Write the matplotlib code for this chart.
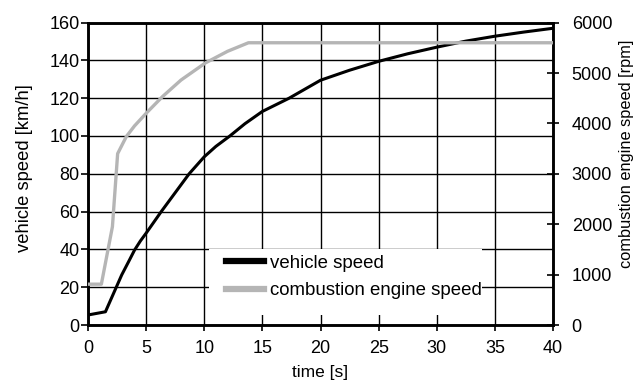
import matplotlib
matplotlib.use("Agg")
import matplotlib.pyplot as plt
from matplotlib.patches import Rectangle

plt.rcParams['font.family'] = ['Liberation Sans', 'DejaVu Sans']

# vehicle speed over time
t_vehicle = [0, 1.5, 2.9, 3.5, 4.0, 4.5, 5.0, 6.3, 7.5, 8.7, 10.0, 11.0, 12.2, 13.5, 15.0,
             17.3, 20.0, 22.5, 25.0, 27.5, 30.0, 32.5, 35.0, 37.5, 40.0]
v_vehicle = [5.3, 7.0, 26.5, 33.6, 39.6, 44.4, 48.6, 60, 70, 80, 89, 94.5, 100, 106.5, 113,
             120, 129.5, 134.8, 139.5, 143.5, 147, 150.2, 152.8, 155, 157]

# combustion engine speed over time
t_engine = [0, 1.15, 2.1, 2.55, 3.3, 4.0, 5.0, 6.4, 8.0, 10.1, 12.0, 13.8, 40.0]
n_engine = [810, 810, 1950, 3400, 3740, 3950, 4200, 4530, 4860, 5200, 5430, 5600, 5600]

x_ticks = [0, 5, 10, 15, 20, 25, 30, 35, 40]
y_ticks = [0, 20, 40, 60, 80, 100, 120, 140, 160]
rpm_ticks = [0, 1000, 2000, 3000, 4000, 5000, 6000]

W, H = 638, 385
fig = plt.figure(figsize=(W / 100, H / 100), dpi=100)
ax = fig.add_axes([88 / W, 1 - 325 / H, 465 / W, 302.4 / H])
ax2 = ax.twinx()

ax.set_xlim(0, 40)
ax.set_ylim(0, 160)
ax2.set_ylim(0, 6000)
ax.set_xticks(x_ticks)
ax.set_yticks(y_ticks)
ax2.set_yticks(rpm_ticks)

ax.set_axisbelow(True)
ax.grid(True, color='black', linewidth=1.0)

# white box behind the legend masks the grid
ax.add_patch(Rectangle((0.26, 0.033), 0.587, 0.218, transform=ax.transAxes,
                       facecolor='white', edgecolor='none', zorder=1))

l1, = ax.plot(t_vehicle, v_vehicle, color='black', linewidth=2.2, zorder=3,
              label='vehicle speed')
l2, = ax2.plot(t_engine, n_engine, color='#b5b5b5', linewidth=2.4, zorder=3,
               label='combustion engine speed')

for a in (ax, ax2):
    for s in a.spines.values():
        s.set_linewidth(1.8)

ax.tick_params(axis='x', direction='out', length=4.5, width=1.2, pad=6, labelsize=13)
ax.tick_params(axis='y', direction='out', length=5, width=1.2, pad=1, labelsize=13)
ax2.tick_params(axis='y', direction='inout', length=9, width=1.2, pad=9, labelsize=13)

ax.set_xlabel('time [s]', fontsize=12.5, labelpad=6)
fig.text(24.5 / W, 1 - 168 / H, 'vehicle speed [km/h]', rotation=90,
         ha='center', va='center', fontsize=13.2)
fig.text(626 / W, 1 - 154 / H, 'combustion engine speed [rpm]', rotation=90,
         ha='center', va='center', fontsize=11.8)

leg = ax2.legend(handles=[l1, l2], loc='upper left', bbox_to_anchor=(0.297, 0.232),
                 frameon=False, fontsize=13.4, handlelength=2.05, handletextpad=0.32,
                 labelspacing=0.56, borderaxespad=0, borderpad=0)
for h in leg.legend_handles:
    h.set_linewidth(4.5)

fig.savefig('out.png', dpi=100)
